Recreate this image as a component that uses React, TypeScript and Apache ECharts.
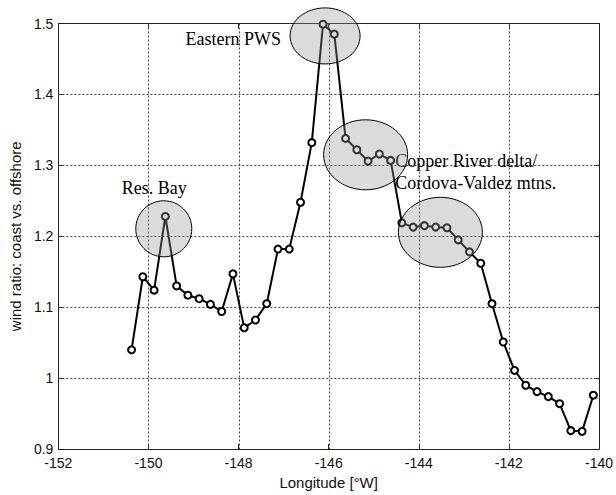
import React, { useEffect, useRef } from "react";
import * as echarts from "echarts";

const longitudes = [
  -150.375, -150.125, -149.875, -149.625, -149.375, -149.125, -148.875, -148.625,
  -148.375, -148.125, -147.875, -147.625, -147.375, -147.125, -146.875, -146.625,
  -146.375, -146.125, -145.875, -145.625, -145.375, -145.125, -144.875, -144.625,
  -144.375, -144.125, -143.875, -143.625, -143.375, -143.125, -142.875, -142.625,
  -142.375, -142.125, -141.875, -141.625, -141.375, -141.125, -140.875, -140.625,
  -140.375, -140.125,
];
const windRatio = [
  1.040, 1.143, 1.124, 1.228, 1.130, 1.117, 1.112, 1.104,
  1.094, 1.147, 1.071, 1.082, 1.105, 1.182, 1.182, 1.248,
  1.332, 1.499, 1.485, 1.338, 1.322, 1.306, 1.316, 1.307,
  1.219, 1.213, 1.215, 1.213, 1.212, 1.195, 1.178, 1.162,
  1.105, 1.051, 1.011, 0.990, 0.981, 0.974, 0.964, 0.926,
  0.925, 0.976,
];
const xTicks = [-152, -150, -148, -146, -144, -142, -140];
const yTicks = [0.9, 1.0, 1.1, 1.2, 1.3, 1.4, 1.5];

// annotation regions (centres in data units)
const regionCenters: [number, number][] = [
  [-149.66, 1.2106],
  [-146.08, 1.4825],
  [-145.18, 1.3149],
  [-143.52, 1.2056],
];
const regionRadii: [number, number][] = [
  [28, 28],
  [35, 28],
  [42, 35],
  [42, 35],
];
const labelTexts = ["Res. Bay", "Eastern PWS", "Copper River delta/", "Cordova-Valdez mtns."];
const labelAnchors: [number, number][] = [
  [-149.87, 1.2686],
  [-148.116, 1.4779],
  [-144.52, 1.3068],
  [-144.52, 1.2748],
];
const labelAlign = ["center", "center", "left", "left"];

export default function App() {
  const ref = useRef<HTMLDivElement>(null);
  useEffect(() => {
    document.body.style.margin = "0";
    const chart = echarts.init(ref.current!, undefined, { renderer: "svg" });
    const fmtY = (v: number) => String(Math.round(v * 10) / 10);
    const tickFont = { fontFamily: "Liberation Sans", fontSize: 14, color: "#111" };
    const axisCommon = {
      type: "value",
      axisLine: { show: true, onZero: false, lineStyle: { color: "#222", width: 1 } },
      axisTick: { show: true, inside: true, length: 5, lineStyle: { color: "#222" } },
      splitLine: { show: false },
    };
    chart.setOption({
      animation: false,
      backgroundColor: "#fff",
      grid: { left: 54.7, right: 13.5, top: 23.5, bottom: 40, containLabel: false },
      xAxis: [
        {
          ...axisCommon, min: xTicks[0], max: xTicks[xTicks.length - 1], interval: 2,
          axisLabel: { ...tickFont, margin: 7 },
          name: "Longitude [°W]", nameLocation: "middle", nameGap: 21,
          nameTextStyle: { fontFamily: "Liberation Sans", fontSize: 15, color: "#111" },
        },
        {
          ...axisCommon, position: "top", min: xTicks[0], max: xTicks[xTicks.length - 1], interval: 2,
          axisLabel: { show: false },
        },
      ],
      yAxis: [
        {
          ...axisCommon, min: yTicks[0], max: yTicks[yTicks.length - 1], interval: 0.1,
          axisLabel: { ...tickFont, margin: 5, formatter: fmtY },
          name: "wind ratio: coast vs. offshore", nameLocation: "middle", nameGap: 30,
          nameTextStyle: { fontFamily: "Liberation Sans", fontSize: 15, color: "#111" },
        },
        {
          ...axisCommon, position: "right", min: yTicks[0], max: yTicks[yTicks.length - 1], interval: 0.1,
          axisLabel: { show: false },
        },
      ],
      series: [
        {
          type: "line",
          data: longitudes.map((lon, i) => [lon, windRatio[i]]),
          lineStyle: { color: "#000", width: 2 },
          symbol: "emptyCircle",
          symbolSize: 7,
          itemStyle: { color: "#000", borderColor: "#000", borderWidth: 1.5 },
          z: 3,
        },
      ],
    });
    const pTL = chart.convertToPixel({ gridIndex: 0 }, [xTicks[0], yTicks[yTicks.length - 1]]) as number[];
    const pBR = chart.convertToPixel({ gridIndex: 0 }, [xTicks[xTicks.length - 1], yTicks[0]]) as number[];
    const gridStyle = { stroke: "#444", lineWidth: 1, lineDash: [2, 2] };
    const vLines = xTicks.slice(1, -1).map((v) => {
      const x = Math.round(chart.convertToPixel({ xAxisIndex: 0 }, v) as number) + 0.5;
      return { type: "line", silent: true, shape: { x1: x, y1: pTL[1], x2: x, y2: pBR[1] }, style: gridStyle, z: 1 };
    });
    const hLines = yTicks.slice(1, -1).map((v) => {
      const y = Math.round(chart.convertToPixel({ yAxisIndex: 0 }, v) as number) + 0.5;
      return { type: "line", silent: true, shape: { x1: pTL[0], y1: y, x2: pBR[0], y2: y }, style: gridStyle, z: 1 };
    });
    const ellipses = regionCenters.map((c, i) => {
      const p = chart.convertToPixel({ gridIndex: 0 }, c) as number[];
      return {
        type: "ellipse",
        shape: { cx: p[0], cy: p[1], rx: regionRadii[i][0], ry: regionRadii[i][1] },
        style: { fill: "rgba(150,150,150,0.34)", stroke: "#000", lineWidth: 1 },
        z: 10,
      };
    });
    const texts = labelAnchors.map((a, i) => {
      const p = chart.convertToPixel({ gridIndex: 0 }, a) as number[];
      return {
        type: "text",
        x: p[0], y: p[1],
        style: {
          text: labelTexts[i], fontFamily: "Liberation Serif", fontSize: 18, fill: "#000",
          align: labelAlign[i], verticalAlign: "middle",
        },
        z: 9,
      };
    });
    chart.setOption({ graphic: [...vLines, ...hLines, ...texts, ...ellipses] });
    return () => chart.dispose();
  }, []);
  return <div ref={ref} style={{ width: 616, height: 495 }} />;
}
